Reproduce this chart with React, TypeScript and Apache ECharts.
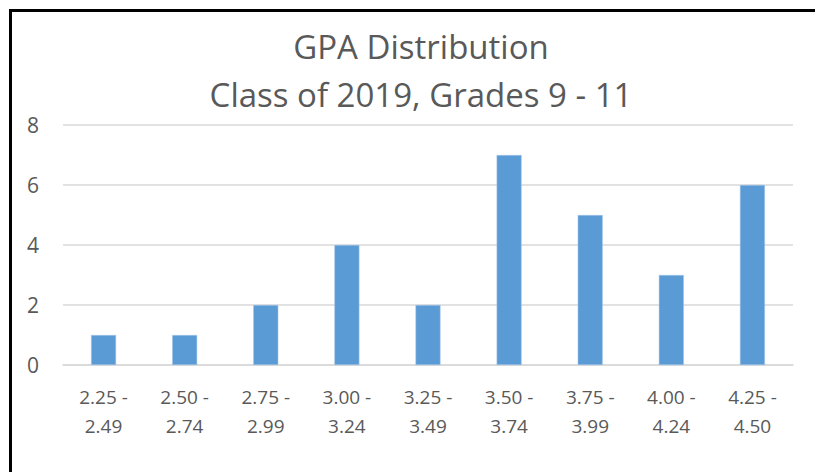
import React, { useEffect, useRef } from "react";
import * as echarts from "echarts";

const titleLines = ["GPA Distribution", "Class of 2019, Grades 9 - 11"];
const categories = [
  "2.25 -\n2.49",
  "2.50 -\n2.74",
  "2.75 -\n2.99",
  "3.00 -\n3.24",
  "3.25 -\n3.49",
  "3.50 -\n3.74",
  "3.75 -\n3.99",
  "4.00 -\n4.24",
  "4.25 -\n4.50",
];
const counts = [1, 1, 2, 4, 2, 7, 5, 3, 6];
const yMin = 0;
const yMax = 8;
const yStep = 2;

export default function App() {
  const ref = useRef<HTMLDivElement>(null);
  useEffect(() => {
    if (!ref.current) return;
    const chart = echarts.init(ref.current, undefined, { renderer: "svg" });
    const font = "'Open Sans', 'Noto Sans', sans-serif";
    chart.setOption({
      animation: false,
      backgroundColor: "#ffffff",
      title: {
        text: titleLines.join("\n"),
        left: 416,
        top: 17,
        textAlign: "center",
        textStyle: {
          fontFamily: font,
          fontSize: 33,
          fontWeight: "normal",
          color: "#595959",
          lineHeight: 48,
        },
      },
      grid: { left: 63, right: 22, top: 125, bottom: 107, containLabel: false },
      xAxis: {
        type: "category",
        data: categories,
        axisLine: { show: true, lineStyle: { color: "#D9D9D9", width: 1.5 } },
        axisTick: { show: false },
        axisLabel: {
          fontFamily: font,
          fontSize: 19,
          color: "#595959",
          lineHeight: 29,
          margin: 17,
          interval: 0,
        },
      },
      yAxis: {
        type: "value",
        min: yMin,
        max: yMax,
        interval: yStep,
        axisLine: { show: false },
        axisTick: { show: false },
        splitLine: { lineStyle: { color: "#D9D9D9", width: 1.5 } },
        axisLabel: {
          fontFamily: font,
          fontSize: 21,
          color: "#595959",
          margin: 24,
        },
      },
      series: [
        {
          type: "bar",
          data: counts,
          barWidth: 25,
          itemStyle: { color: "#5B9BD5", borderColor: "#A9C8EA", borderWidth: 0.5 },
        },
      ],
      graphic: [
        {
          type: "polyline",
          shape: { points: [[10.5, 472], [10.5, 10.5], [815, 10.5]] },
          style: { stroke: "#000000", lineWidth: 3, fill: null },
          z: 100,
        },
      ],
    });
    return () => chart.dispose();
  }, []);
  return (
    <div style={{ position: "fixed", left: 0, top: 0, width: 815, height: 472 }}>
      <div ref={ref} style={{ width: 815, height: 472 }} />
    </div>
  );
}
